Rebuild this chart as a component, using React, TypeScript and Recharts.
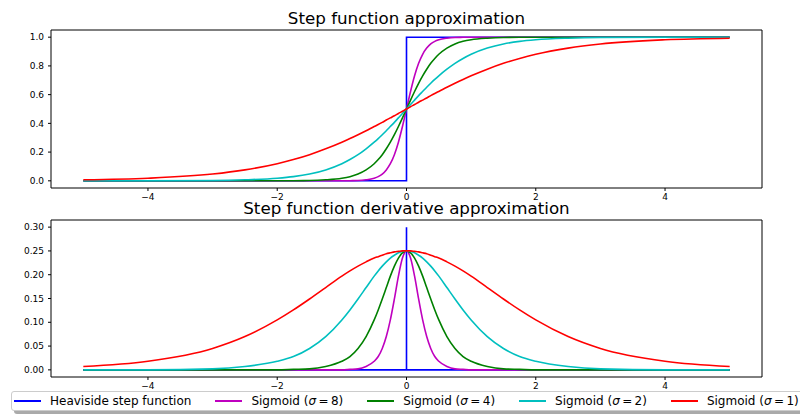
import React from 'react'
import { LineChart, Line, XAxis, YAxis, ReferenceLine } from 'recharts'

// sample positions along x
const xs = [
  -5, -4, -3, -2.5, -2, -1.75, -1.5, -1.25, -1, -0.875, -0.75, -0.625, -0.5, -0.4375, -0.375, -0.3125, -0.25, -0.1875, -0.125, -0.0625,
  0, 0.0625, 0.125, 0.1875, 0.25, 0.3125, 0.375, 0.4375, 0.5, 0.625, 0.75, 0.875, 1, 1.25, 1.5, 1.75, 2, 2.5, 3, 4, 5,
]

// top panel: step + sigmoids
const stepX = [-5, 0, 0, 5]
const stepY = [0, 0, 1, 1]
const sig8 = [
  0, 0, 0, 0, 0, 0, 0, 0, 0, 0.001, 0.002, 0.007, 0.018, 0.029, 0.047, 0.076, 0.119, 0.182, 0.269, 0.378,
  0.5, 0.622, 0.731, 0.818, 0.881, 0.924, 0.953, 0.971, 0.982, 0.993, 0.998, 0.999, 1, 1, 1, 1, 1, 1, 1, 1, 1,
]
const sig4 = [
  0, 0, 0, 0, 0, 0.001, 0.002, 0.007, 0.018, 0.029, 0.047, 0.076, 0.119, 0.148, 0.182, 0.223, 0.269, 0.321, 0.378, 0.438,
  0.5, 0.562, 0.622, 0.679, 0.731, 0.777, 0.818, 0.852, 0.881, 0.924, 0.953, 0.971, 0.982, 0.993, 0.998, 0.999, 1, 1, 1, 1, 1,
]
const sig2 = [
  0, 0, 0.002, 0.007, 0.018, 0.029, 0.047, 0.076, 0.119, 0.148, 0.182, 0.223, 0.269, 0.294, 0.321, 0.349, 0.378, 0.407, 0.438, 0.469,
  0.5, 0.531, 0.562, 0.593, 0.622, 0.651, 0.679, 0.706, 0.731, 0.777, 0.818, 0.852, 0.881, 0.924, 0.953, 0.971, 0.982, 0.993, 0.998, 1, 1,
]
const sig1 = [
  0.007, 0.018, 0.047, 0.076, 0.119, 0.148, 0.182, 0.223, 0.269, 0.294, 0.321, 0.349, 0.378, 0.392, 0.407, 0.423, 0.438, 0.453, 0.469, 0.484,
  0.5, 0.516, 0.531, 0.547, 0.562, 0.577, 0.593, 0.608, 0.622, 0.651, 0.679, 0.706, 0.731, 0.777, 0.818, 0.852, 0.881, 0.924, 0.953, 0.982, 0.993,
]

// bottom panel: derivatives
const dStepX = [-5, 0, 0, 0, 5]
const dStepY = [0, 0, 0.3, 0, 0]
const dSig8 = [
  0, 0, 0, 0, 0, 0, 0, 0, 0, 0.001, 0.002, 0.007, 0.018, 0.028, 0.045, 0.07, 0.105, 0.149, 0.197, 0.235,
  0.25, 0.235, 0.197, 0.149, 0.105, 0.07, 0.045, 0.028, 0.018, 0.007, 0.002, 0.001, 0, 0, 0, 0, 0, 0, 0, 0, 0,
]
const dSig4 = [
  0, 0, 0, 0, 0, 0.001, 0.002, 0.007, 0.018, 0.028, 0.045, 0.07, 0.105, 0.126, 0.149, 0.173, 0.197, 0.218, 0.235, 0.246,
  0.25, 0.246, 0.235, 0.218, 0.197, 0.173, 0.149, 0.126, 0.105, 0.07, 0.045, 0.028, 0.018, 0.007, 0.002, 0.001, 0, 0, 0, 0, 0,
]
const dSig2 = [
  0, 0, 0.002, 0.007, 0.018, 0.028, 0.045, 0.07, 0.105, 0.126, 0.149, 0.173, 0.197, 0.208, 0.218, 0.227, 0.235, 0.241, 0.246, 0.249,
  0.25, 0.249, 0.246, 0.241, 0.235, 0.227, 0.218, 0.208, 0.197, 0.173, 0.149, 0.126, 0.105, 0.07, 0.045, 0.028, 0.018, 0.007, 0.002, 0, 0,
]
const dSig1 = [
  0.007, 0.018, 0.045, 0.07, 0.105, 0.126, 0.149, 0.173, 0.197, 0.208, 0.218, 0.227, 0.235, 0.238, 0.241, 0.244, 0.246, 0.248, 0.249, 0.25,
  0.25, 0.25, 0.249, 0.248, 0.246, 0.244, 0.241, 0.238, 0.235, 0.227, 0.218, 0.208, 0.197, 0.173, 0.149, 0.126, 0.105, 0.07, 0.045, 0.018, 0.007,
]

const xTicks = [-4, -2, 0, 2, 4]
const yTicksTop = [0, 0.2, 0.4, 0.6, 0.8, 1.0]
const yTicksBottom = [0, 0.05, 0.1, 0.15, 0.2, 0.25, 0.3]
const sigmas = [8, 4, 2, 1]
const colors = ['#0000ff', '#bf00bf', '#008000', '#00bfbf', '#ff0000']

const FONT = '"DejaVu Sans", sans-serif'
const X_DOMAIN = [-5.5, 5.5]
const rows = (x: number[], y: number[]) => x.map((v, i) => ({ x: v, y: y[i] }))
const fmtX = (v: number) => (v < 0 ? `\u2212${Math.abs(v)}` : `${v}`)
const tick = { fontSize: 9, fill: '#000', fontFamily: FONT }

function Panel({ height, margin, yDomain, yTicks, yFmt, step, curves }: any) {
  return (
    <LineChart width={800} height={height} margin={margin}>
      <XAxis
        type="number" dataKey="x" domain={X_DOMAIN} allowDataOverflow ticks={xTicks}
        tickFormatter={fmtX} tick={tick} tickSize={3} tickMargin={3} height={12}
        axisLine={{ stroke: '#000' }} tickLine={{ stroke: '#000' }}
      />
      <YAxis
        type="number" domain={yDomain} allowDataOverflow ticks={yTicks} tickFormatter={yFmt}
        tick={tick} tickSize={3} tickMargin={4} width={51}
        axisLine={{ stroke: '#000' }} tickLine={{ stroke: '#000' }}
      />
      {/* top and right spines */}
      <ReferenceLine y={yDomain[1]} stroke="#000" strokeWidth={1} />
      <ReferenceLine x={X_DOMAIN[1]} stroke="#000" strokeWidth={1} />
      <Line data={step} dataKey="y" type="linear" stroke={colors[0]} strokeWidth={1.6} dot={false} isAnimationActive={false} />
      {curves.map((c: any, i: number) => (
        <Line key={i} data={c} dataKey="y" type="monotone" stroke={colors[i + 1]} strokeWidth={1.6} dot={false} isAnimationActive={false} />
      ))}
    </LineChart>
  )
}

const title: React.CSSProperties = {
  position: 'absolute', left: 0, width: 813, textAlign: 'center', fontFamily: FONT,
  fontSize: 16.7, lineHeight: 1, color: '#000',
}

export default function App() {
  const labels: React.ReactNode[] = [
    'Heaviside step function',
    ...sigmas.map((s) => (
      <>Sigmoid (<i>σ</i>{'\u2009=\u2009'}{s})</>
    )),
  ]
  return (
    <div style={{ position: 'absolute', left: 0, top: 0, width: 800, height: 415, background: '#fff', overflow: 'hidden' }}>
      <div style={{ position: 'absolute', left: 0, top: 0 }}>
        <Panel
          height={210}
          margin={{ top: 30, right: 38, left: 0, bottom: 10 }}
          yDomain={[-0.05, 1.05]}
          yTicks={yTicksTop}
          yFmt={(v: number) => v.toFixed(1)}
          step={rows(stepX, stepY)}
          curves={[sig8, sig4, sig2, sig1].map((s) => rows(xs, s))}
        />
      </div>
      <div style={{ position: 'absolute', left: 0, top: 200 }}>
        <Panel
          height={215}
          margin={{ top: 20, right: 38, left: 0, bottom: 26 }}
          yDomain={[-0.015, 0.315]}
          yTicks={yTicksBottom}
          yFmt={(v: number) => v.toFixed(2)}
          step={rows(dStepX, dStepY)}
          curves={[dSig8, dSig4, dSig2, dSig1].map((s) => rows(xs, s))}
        />
      </div>
      <div style={{ ...title, top: 10.2 }}>Step function approximation</div>
      <div style={{ ...title, top: 200.2 }}>Step function derivative approximation</div>
      <div
        style={{
          position: 'absolute', left: 11, top: 391, width: 800, height: 20, background: '#fff',
          border: '1px solid #ccc', borderRadius: 3, boxShadow: '3px 3px 0 #aaa',
          display: 'flex', alignItems: 'center', fontFamily: FONT, fontSize: 12, color: '#000',
          whiteSpace: 'nowrap', boxSizing: 'border-box',
        }}
      >
        {labels.map((l, i) => (
          <div key={i} style={{ display: 'flex', alignItems: 'center', marginLeft: i === 0 ? 2 : 24 }}>
            <div style={{ width: 27, height: 2, background: colors[i], marginRight: 9 }} />
            <span>{l}</span>
          </div>
        ))}
      </div>
    </div>
  )
}
